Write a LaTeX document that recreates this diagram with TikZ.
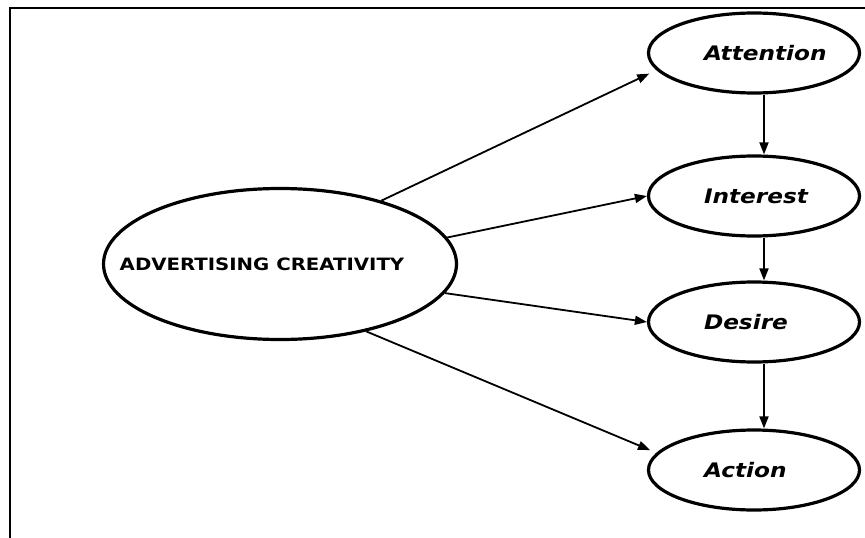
\documentclass[tikz,border=0pt]{standalone}
\usepackage{fontspec}
\setmainfont[FakeStretch=1.16]{DejaVu Sans}
\usetikzlibrary{arrows.meta,shapes.geometric}

\tikzset{
    stage/.style={draw,ellipse,line width=3.2pt,minimum width=211pt,minimum height=80pt,inner sep=0pt,
        text width=100pt,align=left,font=\fontsize{20}{24}\selectfont\bfseries\itshape},
    link/.style={-{Triangle[length=12pt,width=9pt]},line width=1.8pt}
}

\begin{document}
\begin{tikzpicture}[x=1pt,y=-1pt]
\useasboundingbox (0,0) rectangle (865,538);
\draw[line width=2pt] (865,8) -- (10,8) -- (10,538);

\node[draw,ellipse,line width=3.2pt,minimum width=353pt,minimum height=151pt,inner sep=0pt,
      font=\fontsize{17}{20}\selectfont\bfseries] (ac) at (280,264) {\hspace*{-36pt}ADVERTISING CREATIVITY};

\node[stage] (att) at (754,53) {Attention};
\node[stage] (int) at (754,196) {Interest};
\node[stage] (des) at (754,322) {Desire};
\node[stage] (act) at (754,470) {Action};

\draw[link,shorten >=8pt] (ac.32) -- (att.190);
\draw[link] (ac.9) -- (int.west);
\draw[link] (ac.-10) -- (des.west);
\draw[link,shorten >=7pt] (ac.-38) -- (act.170);

\draw[link] ([xshift=10pt]att.south) -- ([xshift=10pt]int.north);
\draw[link] ([xshift=10pt]int.south) -- ([xshift=10pt]des.north);
\draw[link] ([xshift=10pt]des.south) -- ([xshift=10pt]act.north);
\end{tikzpicture}
\end{document}
